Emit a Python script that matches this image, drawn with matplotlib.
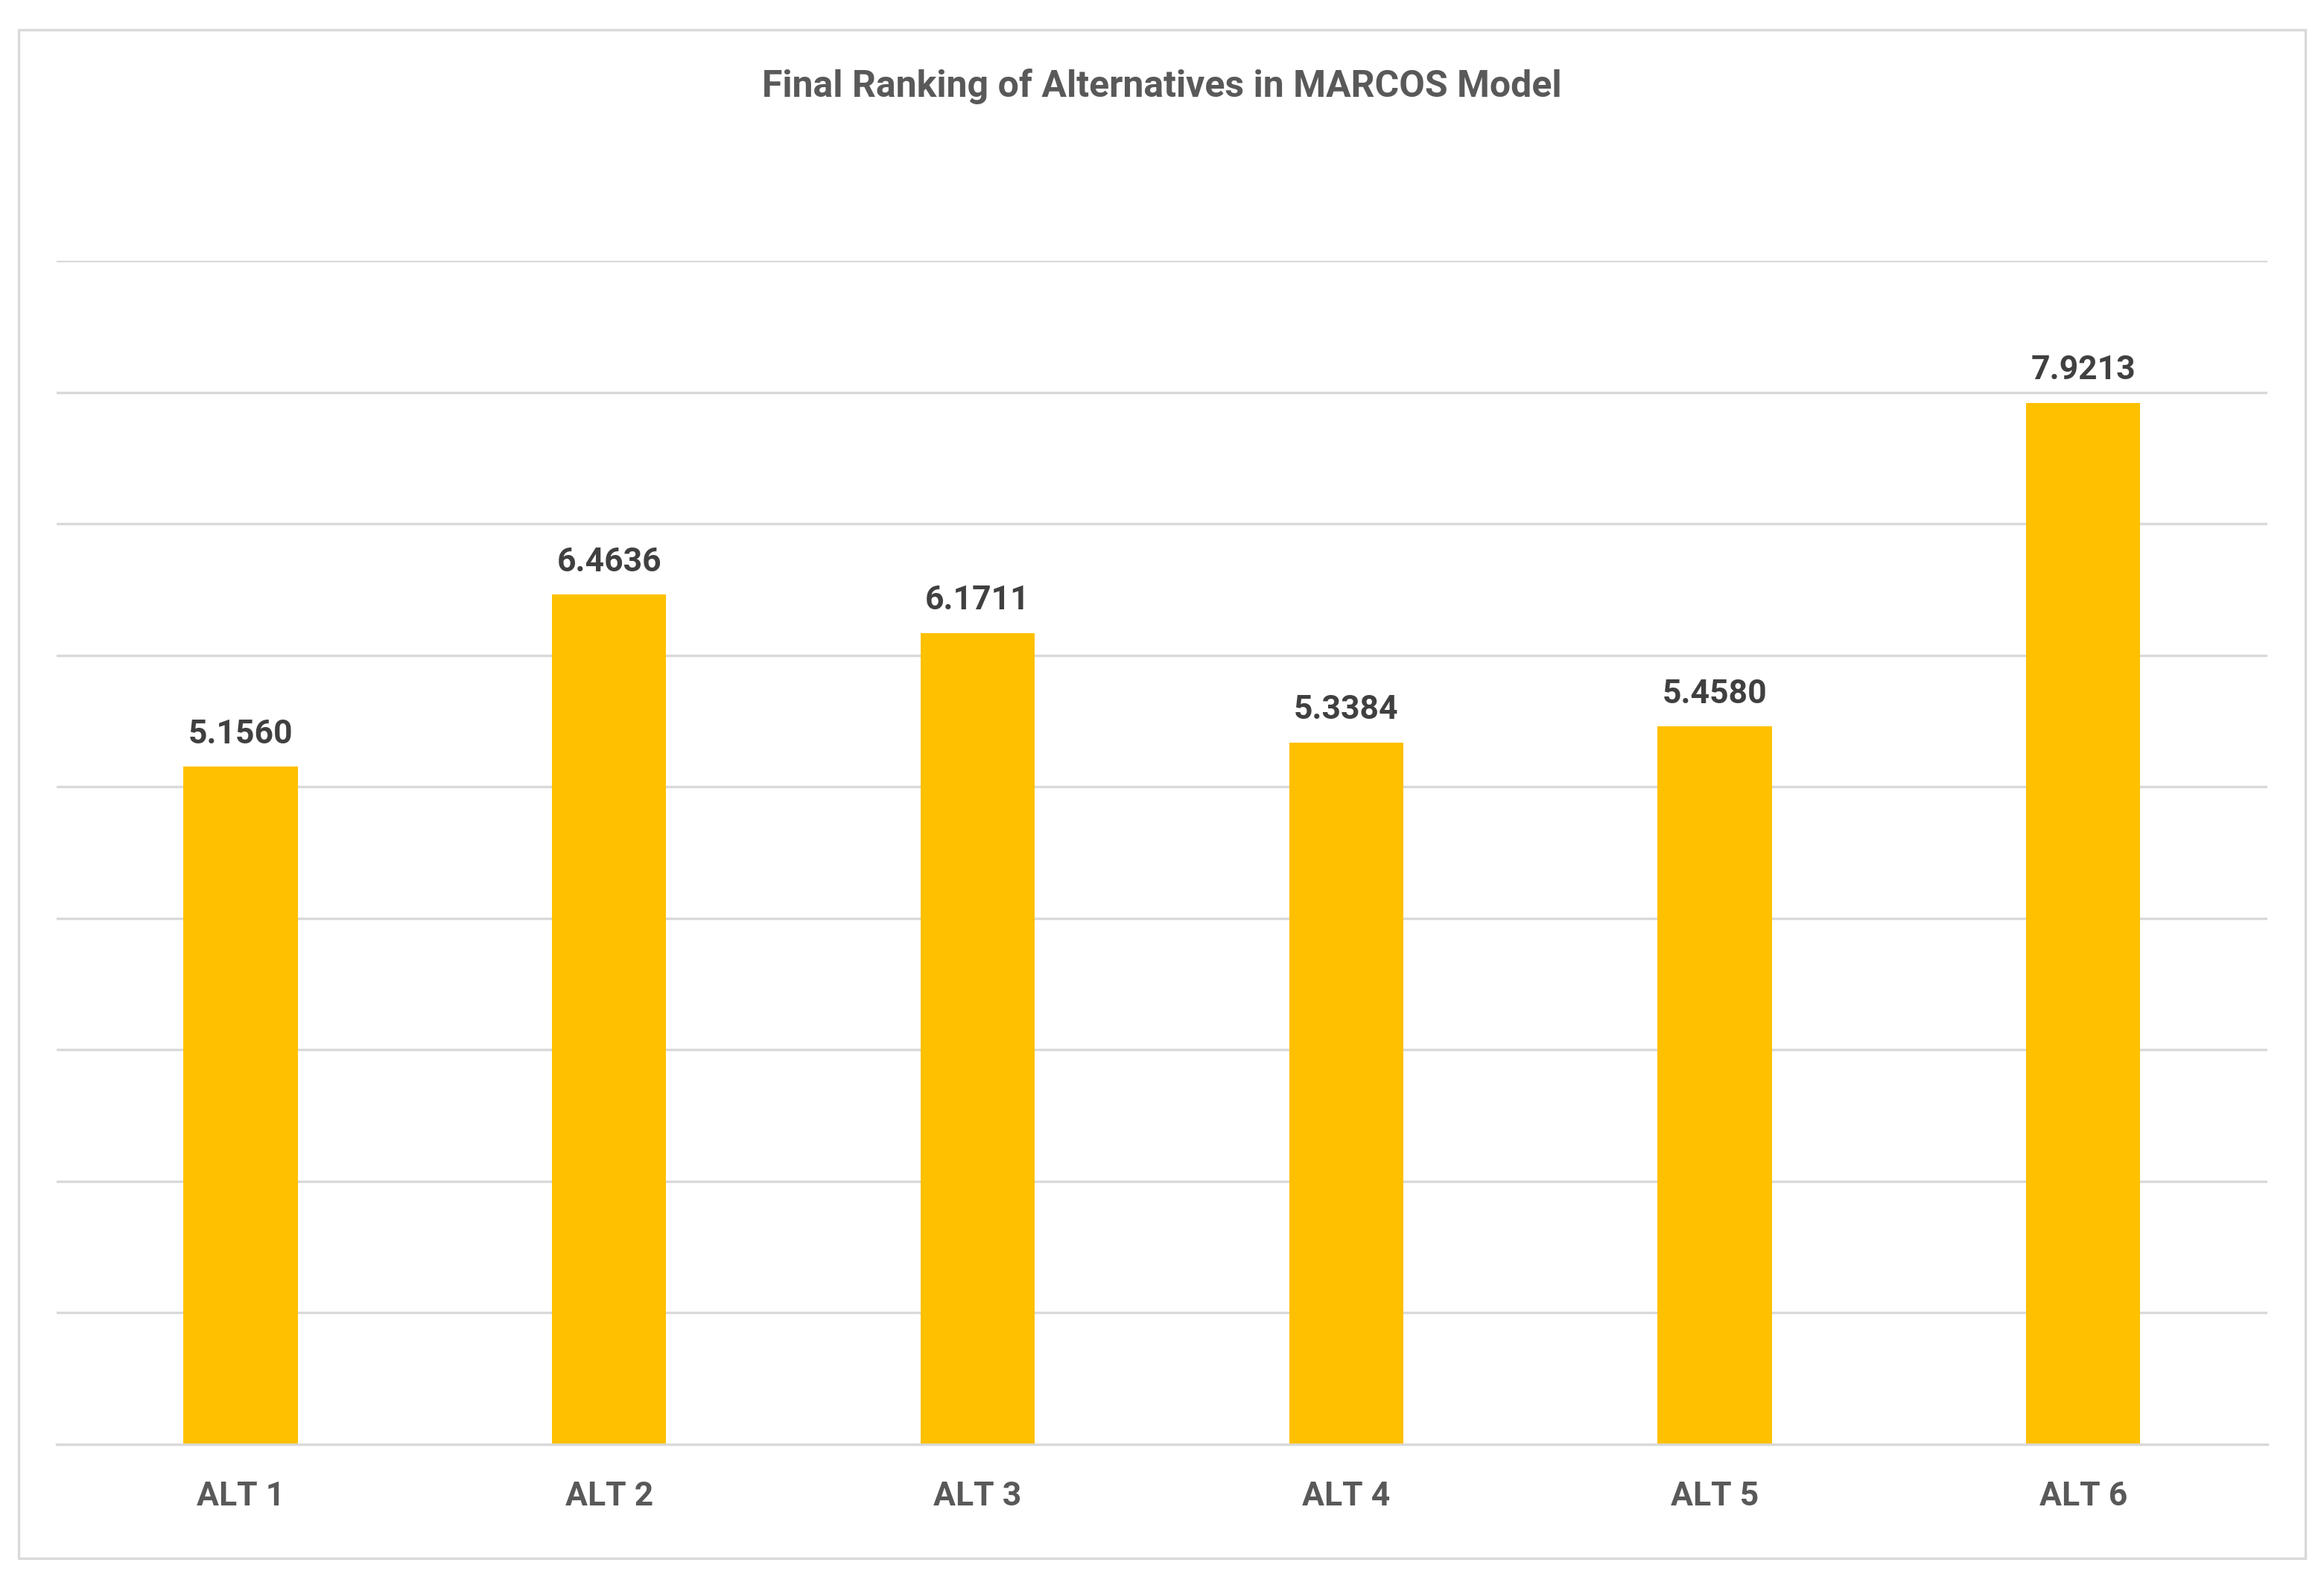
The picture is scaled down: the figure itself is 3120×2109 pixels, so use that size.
import matplotlib

matplotlib.use("Agg")
import matplotlib.pyplot as plt
from matplotlib.patches import Rectangle

CATEGORIES = ["ALT 1", "ALT 2", "ALT 3", "ALT 4", "ALT 5", "ALT 6"]
SCORES = [5.1560, 6.4636, 6.1711, 5.3384, 5.4580, 7.9213]
TITLE = "Final Ranking of Alternatives in MARCOS Model"

plt.rcParams["font.family"] = ["Roboto", "DejaVu Sans"]

fig = plt.figure(figsize=(15.6, 10.545), dpi=200)
fig.patches.append(
    Rectangle((0.008, 0.008), 0.984, 0.973, transform=fig.transFigure,
              fill=False, edgecolor="#d9d9d9", linewidth=1.2)
)
ax = fig.add_axes([0.0242, 0.0806, 0.9515, 0.7534])

x = range(len(CATEGORIES))
bars = ax.bar(x, SCORES, width=0.31, color="#ffc000", zorder=2)
for bar, value in zip(bars, SCORES):
    ax.annotate(f"{value:.4f}", (bar.get_x() + bar.get_width() / 2, value),
                xytext=(0, 8), textcoords="offset points", ha="center",
                va="bottom", fontsize=16, fontweight="bold", color="#404040")

ax.set_xlim(-0.5, len(CATEGORIES) - 0.5)
ax.set_ylim(0, 9)
ax.set_yticks(range(0, 10))
ax.yaxis.grid(True, color="#d9d9d9", linewidth=1.2, zorder=0)
ax.tick_params(axis="y", left=False, labelleft=False)
ax.tick_params(axis="x", bottom=False, pad=14)
ax.set_xticks(list(x))
ax.set_xticklabels(CATEGORIES, fontsize=16, fontweight="bold", color="#595959")
for side in ("top", "left", "right"):
    ax.spines[side].set_visible(False)
ax.spines["bottom"].set_color("#d9d9d9")
ax.spines["bottom"].set_linewidth(1.2)

fig.text(0.5, 0.945, TITLE, ha="center", va="center", fontsize=18,
         fontweight="bold", color="#595959")

fig.savefig("out.png", dpi=200)
